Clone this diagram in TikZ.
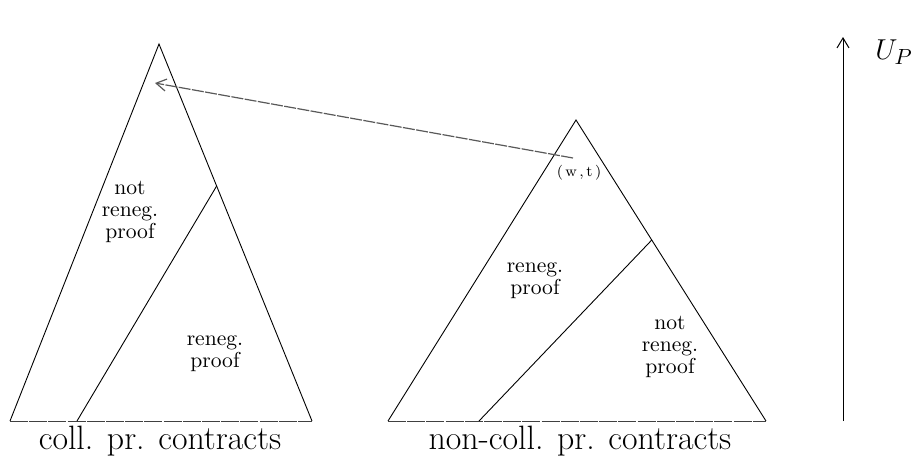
\documentclass[tikz,border=0pt]{standalone}
\usepackage{amsmath}
\usepackage{tikz}
\usetikzlibrary{arrows.meta, calc}
\tikzset{
  >={Straight Barb[length=5pt,width=6pt]},
  edge/.style={line width=0.45pt, black},
  baseline/.style={line width=0.5pt, black!75, dash pattern=on 9pt off 0.6pt},
  devarrow/.style={->, line width=0.6pt, black!65, dash pattern=on 6pt off 0.7pt},
  axisarrow/.style={->, line width=0.5pt, black},
  region/.style={font=\fontsize{10.8}{11}\selectfont, align=center, inner sep=0pt},
  setlabel/.style={font=\fontsize{16.9}{18}\selectfont, inner sep=0pt},
}

\begin{document}
\begin{tikzpicture}[x=0.5pt, y=-0.5pt]
  \useasboundingbox (0,0) rectangle (914,457);

  % collusion-proof contracts
  \coordinate (LA) at (159,44);
  \coordinate (LL) at (10,421);
  \coordinate (LR) at (312,421);
  \coordinate (LDb) at (77,421);
  \coordinate (LDt) at ($(LA)!0.3767!(LR)$);
  \draw[edge] (LL) -- (LA) -- (LR);
  \draw[baseline] (LL) -- (LR);
  \draw[edge] (LDb) -- (LDt);
  \node[region] (LnotRP) at (130,212) {not\\reneg.\\proof};
  \node[region] (LRP) at (215,354) {reneg.\\proof};
  \node[setlabel] (collLbl) at (160,441) {coll. pr. contracts};

  % non-collusion-proof contracts
  \coordinate (RA) at (576,120);
  \coordinate (RL) at (388,421);
  \coordinate (RR) at (766,421);
  \coordinate (RDb) at (479,421);
  \coordinate (RDt) at ($(RA)!0.3987!(RR)$);
  \draw[edge] (RL) -- (RA) -- (RR);
  \draw[baseline] (RL) -- (RR);
  \draw[edge] (RDb) -- (RDt);
  \node[region] (RRP) at (535,281) {reneg.\\proof};
  \node[region] (RnotRP) at (670,347) {not\\reneg.\\proof};
  \node[setlabel] (noncollLbl) at (580,441) {non-coll. pr. contracts};

  % deviation (w,t)
  \node[font=\fontsize{7.5}{9}\selectfont, inner sep=0pt] (wt) at (579,173) {(\,w\,,\,t\,)};
  \coordinate (wtTail) at (573,158);
  \coordinate (wtHead) at (155,83);
  \draw[devarrow] (wtTail) -- (wtHead);

  % utility axis
  \coordinate (axBot) at (843,421);
  \coordinate (axTop) at (843,37);
  \draw[axisarrow] (axBot) -- (axTop);
  \node[font=\fontsize{15}{18}\selectfont, inner sep=0pt] (UP) at (894,52) {$U_P$};

\end{tikzpicture}
\end{document}
